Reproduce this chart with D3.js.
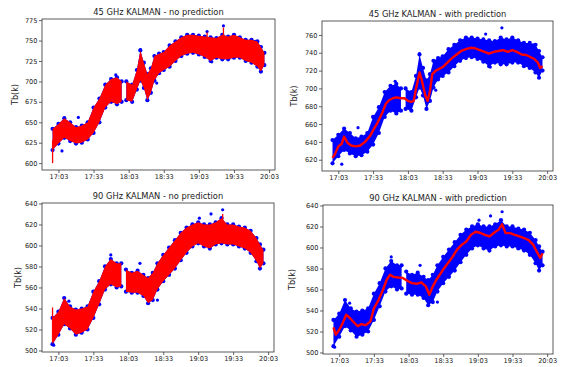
<!DOCTYPE html>
<html>
<head>
<meta charset="utf-8">
<script src="https://cdn.jsdelivr.net/npm/d3@7"></script>
<style>
  body { margin: 0; background: #fff; }
  svg { display: block; font-family: "DejaVu Sans", sans-serif; }
</style>
</head>
<body>
<script>
const blueTimes45 = ["16:58","17:03","17:08","17:13","17:18","17:23","17:28","17:33","17:38","17:43","17:48","17:53","17:57","17:59","18:01","18:06","18:10","18:13","18:16","18:19","18:22","18:25","18:29","18:33","18:38","18:43","18:48","18:53","18:58","19:03","19:08","19:13","19:18","19:23","19:28","19:33","19:38","19:43","19:48","19:53","19:56","19:59"];
const blueLo45 = [616,624,631,627,624,625,629,637,650,668,675,672,675,null,677,675,690,701,692,677,686,701,710,714,718,725,731,734,735,733,730,725,729,727,727,729,729,725,723,718,712,720];
const blueHi45 = [642,648,655,650,644,646,650,668,679,696,703,705,700,null,700,696,714,738,723,709,716,731,734,736,744,749,754,757,757,756,755,754,753,757,755,757,754,751,751,749,742,735];
const outliers45 = [["17:06",615],["17:20",656],["17:52",708],["18:13",739],["18:27",698],["19:10",761],["19:24",768],["19:51",749],["19:14",724]];
const spikes45 = [["16:58",600,628],["19:10",745,760],["19:24",748,766]];

const blueTimes90 = ["16:58","17:03","17:08","17:13","17:18","17:23","17:28","17:33","17:38","17:43","17:48","17:53","17:57","17:59","18:01","18:06","18:11","18:16","18:20","18:24","18:28","18:33","18:38","18:43","18:48","18:53","18:58","19:03","19:08","19:13","19:18","19:23","19:28","19:33","19:38","19:43","19:48","19:53","19:56","19:59"];
const blueLo90 = [506,515,525,521,515,517,520,531,544,558,563,560,561,null,556,555,555,552,545,548,558,566,572,578,586,593,599,602,599,597,601,602,601,601,599,597,593,585,578,583];
const blueHi90 = [531,537,550,542,539,540,542,556,566,580,587,583,583,null,577,574,576,572,569,574,583,591,598,605,612,617,620,622,620,620,622,626,620,620,618,617,614,607,601,596];
const outliers90 = [["16:59",505],["17:12",547],["17:48",591],["18:13",583],["18:28",548],["19:14",630],["19:24",634],["19:04",626]];
const spikes90 = [["16:58",508,541],["18:31",566,578],["19:24",612,630]];

// kalman output with prediction (red line)
const redTimes45 = ["16:58","17:00","17:03","17:06","17:08","17:11","17:14","17:18","17:22","17:26","17:30","17:33","17:37","17:41","17:44","17:47","17:50","17:53","17:57","18:00","18:03","18:06","18:08","18:10","18:13","18:15","18:18","18:20","18:22","18:24","18:27","18:30","18:33","18:37","18:41","18:45","18:49","18:53","18:57","19:01","19:05","19:09","19:13","19:17","19:21","19:25","19:29","19:33","19:37","19:41","19:45","19:49","19:52","19:55","19:57","19:59"];
const red45 = [622,626,635,638,646,639,636,635,636,640,646,653,662,673,683,687,689,690,689,689,686,685,686,700,718,709,692,686,697,716,720,722,724,729,734,738,742,744,745.6,745,743,741,739,741,742,743,741,743,741,738,737.5,735,733,729,723,725];
const redTimes90 = ["16:58","17:00","17:03","17:06","17:09","17:12","17:15","17:19","17:22","17:26","17:30","17:33","17:37","17:41","17:44","17:47","17:50","17:54","17:58","18:03","18:06","18:10","18:14","18:18","18:21","18:24","18:27","18:30","18:33","18:37","18:41","18:45","18:49","18:53","18:57","19:01","19:05","19:09","19:13","19:17","19:21","19:24","19:27","19:31","19:35","19:39","19:43","19:47","19:51","19:54","19:57","19:59"];
const red90 = [524,517,521.6,528,536,533,529.5,525,527,526,529.5,542,550,560,569,574,572,571.4,571,567.6,566,565.4,566.7,563,555,563,569,574,579,585,591,598,602.5,605.7,612,615,614,612,610.5,614,617,622,613.7,613.7,612,610.5,609,607,602.5,596,590,594.6];

const xTickLabels = ["17:03","17:33","18:03","18:33","19:03","19:33","20:03"];
const yTicks45a = [600,625,650,675,700,725,750,775];
const yTicks45b = [620,640,660,680,700,720,740,760];
const yTicks90 = [500,520,540,560,580,600,620,640];

const W = 568, H = 367;
const toMin = s => +s.slice(0, 2) * 60 + +s.slice(3);

const svg = d3.select('body').append('svg')
    .attr('width', W)
    .attr('height', H);

function band(times, lo, hi) {
  return times.map((t, i) => ({t: toMin(t), lo: lo[i], hi: hi[i]}));
}

const blue45 = band(blueTimes45, blueLo45, blueHi45);
const blue90 = band(blueTimes90, blueLo90, blueHi90);

const panels = [
  {x0: 42, x1: 275, y0: 19, y1: 170, title: '45 GHz KALMAN - no prediction', blue: blue45,
   out: outliers45, spikes: spikes45, yTicks: yTicks45a, predict: false, labX: 15},
  {x0: 322, x1: 553, y0: 21, y1: 171, title: '45 GHz KALMAN - with prediction', blue: blue45,
   out: outliers45, redT: redTimes45, red: red45, yTicks: yTicks45b, predict: true, labX: 294},
  {x0: 42, x1: 274, y0: 203, y1: 352, title: '90 GHz KALMAN - no prediction', blue: blue90,
   out: outliers90, spikes: spikes90, yTicks: yTicks90, predict: false, labX: 18},
  {x0: 323, x1: 553, y0: 205, y1: 354, title: '90 GHz KALMAN - with prediction', blue: blue90,
   out: outliers90, redT: redTimes90, red: red90, yTicks: yTicks90, predict: true, labX: 292}
];

panels.forEach(p => {
  const defined = p.blue.filter(d => d.lo != null);
  let vals = defined.flatMap(d => [d.lo, d.hi]).concat(p.out.map(o => o[1]));
  if (p.spikes) vals = vals.concat(p.spikes.flatMap(s => [s[1], s[2]]));
  if (p.red) vals = vals.concat(p.red);
  const [vmin, vmax] = d3.extent(vals);
  const [tmin, tmax] = d3.extent(p.blue, d => d.t);
  const padY = (vmax - vmin) * 0.05, padX = (tmax - tmin) * 0.05;

  const x = d3.scaleLinear().domain([tmin - padX, tmax + padX]).range([p.x0, p.x1]);
  const y = d3.scaleLinear().domain([vmin - padY, vmax + padY]).range([p.y1, p.y0]);

  const g = svg.append('g');

  const area = d3.area()
      .defined(d => d.lo != null)
      .x(d => x(d.t))
      .y0(d => y(d.lo))
      .y1(d => y(d.hi));

  // blue measurement dots: band body + ragged edges
  g.append('path')
      .datum(p.blue)
      .attr('d', area)
      .attr('fill', '#0000ff');

  g.selectAll('.edge')
      .data(defined.flatMap(d => [[d.t, d.lo], [d.t, d.hi]]))
    .enter().append('circle')
      .attr('cx', d => x(d[0]))
      .attr('cy', d => y(d[1]))
      .attr('r', 2.1)
      .attr('fill', '#0000ff');

  g.selectAll('.out')
      .data(p.out)
    .enter().append('circle')
      .attr('cx', d => x(toMin(d[0])))
      .attr('cy', d => y(d[1]))
      .attr('r', 1.6)
      .attr('fill', '#0000ff');

  if (!p.predict) {
    // filter output follows the measurements closely
    g.append('path')
        .datum(p.blue)
        .attr('d', area)
        .attr('fill', '#ff0000');
    g.selectAll('.spike')
        .data(p.spikes)
      .enter().append('line')
        .attr('x1', d => x(toMin(d[0])))
        .attr('x2', d => x(toMin(d[0])))
        .attr('y1', d => y(d[1]))
        .attr('y2', d => y(d[2]))
        .attr('stroke', '#ff0000')
        .attr('stroke-width', 1.3);
  } else {
    const line = d3.line()
        .x((d, i) => x(toMin(p.redT[i])))
        .y(d => y(d));
    g.append('path')
        .datum(p.red)
        .attr('d', line)
        .attr('fill', 'none')
        .attr('stroke', '#ff0000')
        .attr('stroke-width', 2.4)
        .attr('stroke-linejoin', 'round');
  }

  // axes
  const xAxis = d3.axisBottom(x)
      .tickValues(xTickLabels.map(toMin))
      .tickFormat((d, i) => xTickLabels[i])
      .tickSize(3)
      .tickPadding(1.5);
  const yAxis = d3.axisLeft(y)
      .tickValues(p.yTicks)
      .tickSize(3)
      .tickPadding(1.5);

  const gx = svg.append('g')
      .attr('transform', 'translate(0,' + p.y1 + ')')
      .call(xAxis);
  const gy = svg.append('g')
      .attr('transform', 'translate(' + p.x0 + ',0)')
      .call(yAxis);
  [gx, gy].forEach(a => {
    a.select('.domain').remove();
    a.selectAll('text').attr('font-size', 6.6).attr('fill', '#222')
        .attr('font-family', '"DejaVu Sans", sans-serif');
    a.selectAll('line').attr('stroke', '#222').attr('stroke-width', 0.7);
  });

  svg.append('rect')
      .attr('x', p.x0)
      .attr('y', p.y0)
      .attr('width', p.x1 - p.x0)
      .attr('height', p.y1 - p.y0)
      .attr('fill', 'none')
      .attr('stroke', '#333')
      .attr('stroke-width', 0.8);

  svg.append('text')
      .attr('x', (p.x0 + p.x1) / 2)
      .attr('y', p.y0 - 4)
      .attr('text-anchor', 'middle')
      .attr('font-size', 8.3)
      .attr('fill', '#222')
      .text(p.title);

  svg.append('text')
      .attr('transform', 'translate(' + p.labX + ',' + (p.y0 + p.y1) / 2 + ') rotate(-90)')
      .attr('text-anchor', 'middle')
      .attr('dy', '0.35em')
      .attr('font-size', 8)
      .attr('fill', '#222')
      .text('Tb(k)');
});
</script>
</body>
</html>
